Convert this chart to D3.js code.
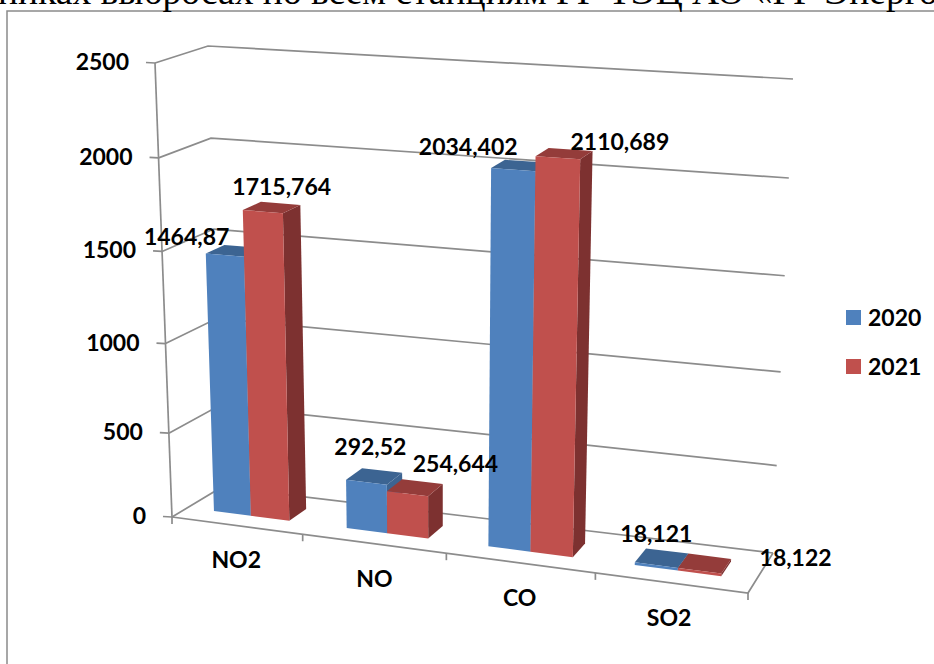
<!DOCTYPE html>
<html><head><meta charset="utf-8">
<script src="https://cdn.jsdelivr.net/npm/d3@7"></script>
<style>html,body{margin:0;padding:0;background:#fff;overflow:hidden}svg{display:block}</style>
</head><body><svg id="c" width="934" height="664"></svg>
<script>
const categories = ["NO2","NO","CO","SO2"];
const seriesNames = ["2020","2021"];
const values2020 = [1464.87,292.52,2034.402,18.121];
const values2021 = [1715.764,254.644,2110.689,18.122];
const labels2020 = ["1464,87","292,52","2034,402","18,121"];
const labels2021 = ["1715,764","254,644","2110,689","18,122"];
const yTicks = [0,500,1000,1500,2000,2500];
const colors = {"2020":{front:"#4f81bd",top:"#3c6492",side:"#3c6492"},"2021":{front:"#c0504d",top:"#943c3a",side:"#7d3130"}};
const headerText = "никах выбросах по всем станциям РГ ТЭЦ АО «РГ Энерго";

const svg = d3.select("#c");
const FONT = "Lato, 'Open Sans', sans-serif";
const box = {
  fl0:[172,517], fl1:[155,63],
  bl0:[222,487], bl1:[208,46],
  br0:[773,553], br1:[793,79],
  fr0:[748,593], fr1:[769,100]
};
const vScale = d3.scalePow().exponent(1.05).domain([0,2500]).range([0,1]);
const uPersp = d3.scalePow().exponent(1.07).domain([0,1]).range([0,1]);
const band = d3.scaleBand().domain(categories).range([0,1]).paddingInner(0.42).paddingOuter(0.23).align(0.5);
const inner = d3.scaleBand().domain(seriesNames).range([0,band.bandwidth()]);
const lerp = (a,b,t)=>[a[0]+(b[0]-a[0])*t,a[1]+(b[1]-a[1])*t];
function project(u,d,value){
  const t=uPersp(u), h=vScale(value);
  const f0=lerp(box.fl0,box.fr0,t), f1=lerp(box.fl1,box.fr1,t);
  const b0=lerp(box.bl0,box.br0,t), b1=lerp(box.bl1,box.br1,t);
  return lerp(lerp(f0,f1,h),lerp(b0,b1,h),d);
}
const line=d3.line();
const GRID="#8c8c8c";
svg.append("rect").attr("x",7).attr("y",11).attr("width",1000).attr("height",800).attr("fill","#fff").attr("stroke","#8a8a8a").attr("stroke-width",1.5);
svg.append("text").attr("x",-2).attr("y",4).attr("font-family","'Liberation Serif',serif").attr("font-size",37.5).attr("fill","#000").text(headerText);

const axis=svg.append("g").attr("fill","none").attr("stroke",GRID).attr("stroke-width",1.7);
yTicks.forEach(v=>{
  axis.append("path").attr("d",line([project(0,0,v),project(0,1,v),project(1,1,v)]));
  const p=project(0,0,v);
  axis.append("path").attr("d",line([[p[0]-9,p[1]-0.5],p]));
});
axis.append("path").attr("d",line([project(0,0,0),project(0,0,2500)]));
axis.append("path").attr("d",line([project(0,0,0),project(1,0,0),project(1,1,0)]));
d3.range(0,categories.length+1).forEach(i=>{
  const p=project(i/categories.length,0,0);
  axis.append("path").attr("d",line([p,[p[0],p[1]+7]]));
});
const labelStyle=s=>s.attr("font-family",FONT).attr("font-weight",700).attr("font-size",23).attr("fill","#000");
yTicks.forEach(v=>{
  const p=project(0,0,v);
  svg.append("text").attr("x",p[0]-26).attr("y",p[1]+7).attr("text-anchor","end").call(labelStyle).text(v);
});
categories.forEach((c,i)=>{
  const u=band(c)+band.bandwidth()/2;
  const p=project(u,0,0);
  svg.append("text").attr("x",p[0]).attr("y",p[1]+43).attr("text-anchor","middle").call(labelStyle).text(c);
});
const D0=0.31,D1=0.68;
const series=[{n:"2020",vals:values2020,labs:labels2020,off:[[-38,-10],[4,-27],[-45,-15],[0,-23]]},
              {n:"2021",vals:values2021,labs:labels2021,off:[[19,-17],[48,-22],[62,-8],[96,-5]]}];
const bars=svg.append("g");
categories.forEach((c,i)=>{
  series.forEach(s=>{
    const u0=band(c)+inner(s.n), u1=u0+inner.bandwidth(), v=s.vals[i], col=colors[s.n];
    bars.append("path").attr("fill",col.side).attr("d",line([project(u1,D0,0),project(u1,D1,0),project(u1,D1,v),project(u1,D0,v)])+"Z");
    bars.append("path").attr("fill",col.top).attr("d",line([project(u0,D0,v),project(u1,D0,v),project(u1,D1,v),project(u0,D1,v)])+"Z");
    bars.append("path").attr("fill",col.front).attr("d",line([project(u0,D0,0),project(u1,D0,0),project(u1,D0,v),project(u0,D0,v)])+"Z");
  });
});
categories.forEach((c,i)=>{
  series.forEach(s=>{
    const u0=band(c)+inner(s.n), u1=u0+inner.bandwidth();
    const p=project((u0+u1)/2,D0,s.vals[i]);
    svg.append("text").attr("x",p[0]+s.off[i][0]).attr("y",p[1]+s.off[i][1]).attr("text-anchor","middle").call(labelStyle).text(s.labs[i]);
  });
});
const legendY=d3.scalePoint().domain(seriesNames).range([317.5,366.5]);
seriesNames.forEach(n=>{
  const y=legendY(n);
  svg.append("rect").attr("x",846).attr("y",y-7.5).attr("width",15).attr("height",15).attr("fill",colors[n].front);
  svg.append("text").attr("x",868).attr("y",y+8).call(labelStyle).text(n);
});
</script></body></html>
